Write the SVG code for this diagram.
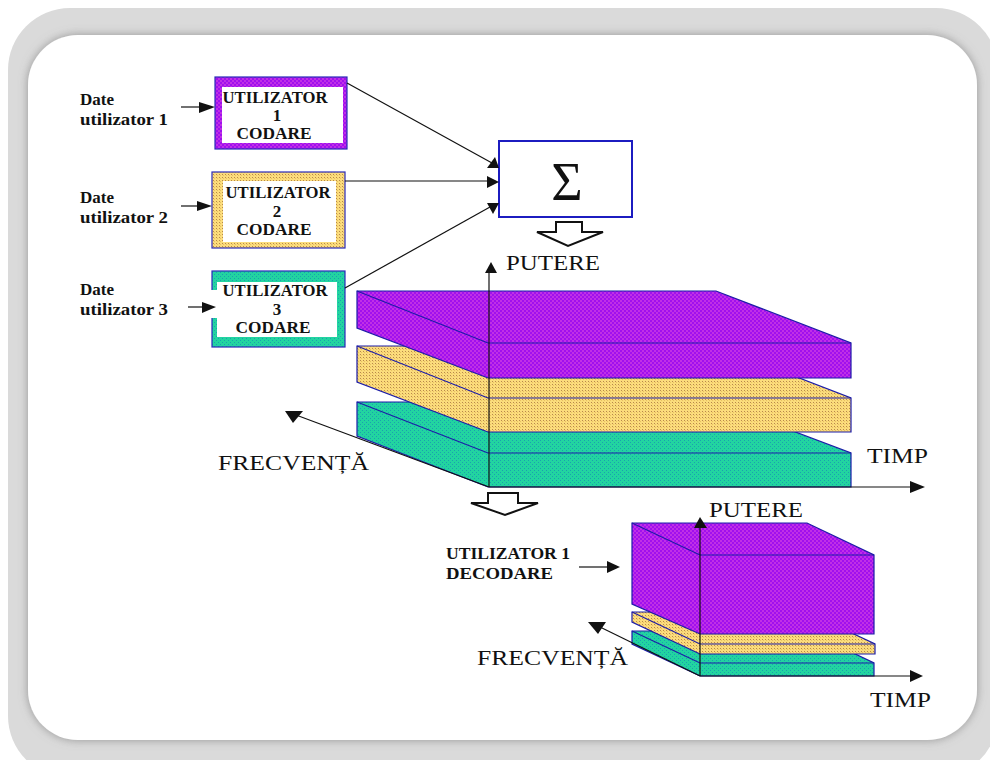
<svg xmlns="http://www.w3.org/2000/svg" width="990" height="760" viewBox="0 0 990 760">
<defs>
<pattern id="pPurple" width="4" height="4" patternUnits="userSpaceOnUse">
<rect width="4" height="4" fill="#a010ee"/><rect width="2" height="2" fill="#c030e6"/><rect x="2" y="2" width="2" height="2" fill="#c030e6"/>
</pattern>
<pattern id="pYellow" width="3" height="3" patternUnits="userSpaceOnUse">
<rect width="3" height="3" fill="#fbdc7c"/><rect width="1" height="1" fill="#b8884a"/><rect x="1" y="1" width="1" height="1" fill="#e8c060"/>
</pattern>
<pattern id="pTeal" width="4" height="4" patternUnits="userSpaceOnUse">
<rect width="4" height="4" fill="#22d4a0"/><rect width="1" height="1" fill="#1aa0b0"/><rect x="2" y="2" width="1" height="1" fill="#1aa0b0"/>
</pattern>
<filter id="inShadow" x="-5%" y="-5%" width="110%" height="110%">
<feDropShadow dx="0" dy="0" stdDeviation="5" flood-color="#777" flood-opacity="0.7"/>
</filter>
<style>
.lbl{font-family:"Liberation Serif","DejaVu Serif",serif;font-weight:bold;font-size:17px;fill:#111}
.box{font-family:"Liberation Serif","DejaVu Serif",serif;font-weight:bold;font-size:17px;fill:#111;text-anchor:middle}
.ax{font-family:"Liberation Serif","DejaVu Serif",serif;font-size:22px;fill:#111}
.sig{font-family:"Liberation Serif","DejaVu Serif",serif;font-size:54px;fill:#111;text-anchor:middle}
.ln{stroke:#111;stroke-width:1.2;fill:none}
.hd{fill:#111}
.edge{stroke:#1c1ca8;stroke-width:1.2;fill:none}
.sil{stroke:#1c1ca8;stroke-width:1.2}
.hollow{fill:#fff;stroke:#111;stroke-width:2;stroke-linejoin:miter}
</style>
</defs>

<g id="frame">
<rect x="8" y="8" width="990" height="770" rx="62" fill="#dadada"/>
<rect x="28" y="35" width="949" height="705" rx="50" fill="#fff" filter="url(#inShadow)"/>
</g>

<g id="input1">
<text class="lbl" x="80" y="105">Date</text>
<text class="lbl" x="80" y="125" textLength="88" lengthAdjust="spacingAndGlyphs">utilizator 1</text>
</g>
<g id="input2">
<text class="lbl" x="80" y="203">Date</text>
<text class="lbl" x="80" y="223" textLength="88" lengthAdjust="spacingAndGlyphs">utilizator 2</text>
</g>
<g id="input3">
<text class="lbl" x="80" y="295">Date</text>
<text class="lbl" x="80" y="315" textLength="88" lengthAdjust="spacingAndGlyphs">utilizator 3</text>
</g>

<g id="coder1">
<rect x="215" y="77" width="132" height="72" fill="url(#pPurple)" stroke="#2a2ab8" stroke-width="1.2"/>
<rect x="222" y="87" width="121" height="56" fill="#fff"/>
<text class="box" x="275" y="103" textLength="105" lengthAdjust="spacingAndGlyphs">UTILIZATOR</text>
<text class="box" x="277" y="121">1</text>
<text class="box" x="274" y="139" textLength="75" lengthAdjust="spacingAndGlyphs">CODARE</text>
</g>
<g id="coder2">
<rect x="212" y="172" width="133" height="76" fill="url(#pYellow)" stroke="#2a2ab8" stroke-width="1.2"/>
<rect x="223" y="181" width="113" height="61" fill="#fff"/>
<text class="box" x="278" y="198" textLength="105" lengthAdjust="spacingAndGlyphs">UTILIZATOR</text>
<text class="box" x="277" y="217">2</text>
<text class="box" x="274" y="235" textLength="75" lengthAdjust="spacingAndGlyphs">CODARE</text>
</g>
<g id="coder3">
<rect x="212" y="271" width="133" height="76" fill="url(#pTeal)" stroke="#2a2ab8" stroke-width="1.2"/>
<rect x="217" y="282" width="120" height="55" fill="#fff"/>
<rect x="211" y="290" width="7" height="28" fill="#fff"/>
<text class="box" x="275" y="296" textLength="105" lengthAdjust="spacingAndGlyphs">UTILIZATOR</text>
<text class="box" x="277" y="315">3</text>
<text class="box" x="273" y="333" textLength="75" lengthAdjust="spacingAndGlyphs">CODARE</text>
</g>

<g id="sum">
<rect x="499" y="141" width="133" height="76" fill="#fff" stroke="#1c1cc0" stroke-width="2"/>
<text class="sig" x="567" y="200">Σ</text>
</g>

<g id="bigChart">
<polygon class="sil" fill="url(#pTeal)" points="357,402 716,402 851,453 851,487 488,487 357,436"/>
<path class="edge" d="M357,402 L488,453 L851,453"/>
<polygon class="sil" fill="url(#pYellow)" points="357,346 716,346 851,398 851,432 488,432 357,382"/>
<path class="edge" d="M357,346 L488,398 L851,398" stroke="#3a2a60"/>
<polygon class="sil" fill="url(#pPurple)" points="357,291 716,291 851,343 851,378 488,378 357,328"/>
<path class="edge" d="M357,291 L488,343 L851,343"/>
<text class="ax" x="506" y="270" textLength="94" lengthAdjust="spacingAndGlyphs">PUTERE</text>
<text class="ax" x="867" y="463" textLength="61" lengthAdjust="spacingAndGlyphs">TIMP</text>
<text class="ax" x="218" y="470" textLength="151" lengthAdjust="spacingAndGlyphs">FRECVENȚĂ</text>
</g>

<g id="smallChart">
<polygon class="sil" fill="url(#pTeal)" points="632,631 807,631 874,663 874,676 700,676 632,644"/>
<path class="edge" d="M632,631 L700,663 L874,663"/>
<polygon class="sil" fill="url(#pYellow)" points="632,612 807,612 875,644 875,654 700,654 632,622"/>
<path class="edge" d="M632,612 L700,644 L875,644" stroke="#3a2a60"/>
<polygon class="sil" fill="url(#pPurple)" points="632,523 807,523 874,555 874,634 700,634 632,604"/>
<path class="edge" d="M632,523 L700,555 L874,555"/>
<text class="ax" x="709" y="517" textLength="94" lengthAdjust="spacingAndGlyphs">PUTERE</text>
<text class="ax" x="870" y="707" textLength="61" lengthAdjust="spacingAndGlyphs">TIMP</text>
<text class="ax" x="477" y="665" textLength="151" lengthAdjust="spacingAndGlyphs">FRECVENȚĂ</text>
</g>

<g id="decoder">
<text class="lbl" x="446" y="559" textLength="124" lengthAdjust="spacingAndGlyphs">UTILIZATOR 1</text>
<text class="lbl" x="446" y="579" textLength="107" lengthAdjust="spacingAndGlyphs">DECODARE</text>
</g>

<g id="connectors">
<line class="ln" x1="181" y1="107" x2="205" y2="107"/>
<polygon class="hd" points="199,102 215,107 199,113"/>
<line class="ln" x1="181" y1="206" x2="200" y2="206"/>
<polygon class="hd" points="197,201 212,206 197,211"/>
<line class="ln" x1="188" y1="307" x2="205" y2="307"/>
<polygon class="hd" points="202,302 216,307 202,313"/>

<line class="ln" x1="347" y1="83" x2="492" y2="163"/>
<polygon class="hd" points="487,168 495,157 499,168"/>
<line class="ln" x1="345" y1="181" x2="490" y2="181"/>
<polygon class="hd" points="487,176 499,182 487,188"/>
<line class="ln" x1="345" y1="288" x2="490" y2="207"/>
<polygon class="hd" points="487,203 499,203 493,214"/>

<polygon class="hollow" points="556,222 582,222 582,232 603,232 568,246 537,232 556,232"/>
<polygon class="hollow" points="488,493 518,493 518,503 538,503 505,515 471,503 488,503"/>

<line class="ln" x1="489" y1="487" x2="489" y2="270"/>
<polygon class="hd" points="485,273 491,262 497,273"/>
<line class="ln" x1="489" y1="487" x2="912" y2="487"/>
<polygon class="hd" points="910,481 925,487 910,493"/>
<line class="ln" x1="489" y1="487" x2="296" y2="415"/>
<polygon class="hd" points="285,411 303,411 293,423"/>

<line class="ln" x1="700" y1="676" x2="700" y2="525"/>
<polygon class="hd" points="694,528 700,517 707,528"/>
<line class="ln" x1="700" y1="676" x2="912" y2="676"/>
<polygon class="hd" points="910,670 923,676 910,682"/>
<line class="ln" x1="700" y1="676" x2="600" y2="627"/>
<polygon class="hd" points="588,622 606,622 598,634"/>

<line class="ln" x1="579" y1="567" x2="609" y2="567"/>
<polygon class="hd" points="607,561 620,567 607,573"/>
</g>
</svg>
